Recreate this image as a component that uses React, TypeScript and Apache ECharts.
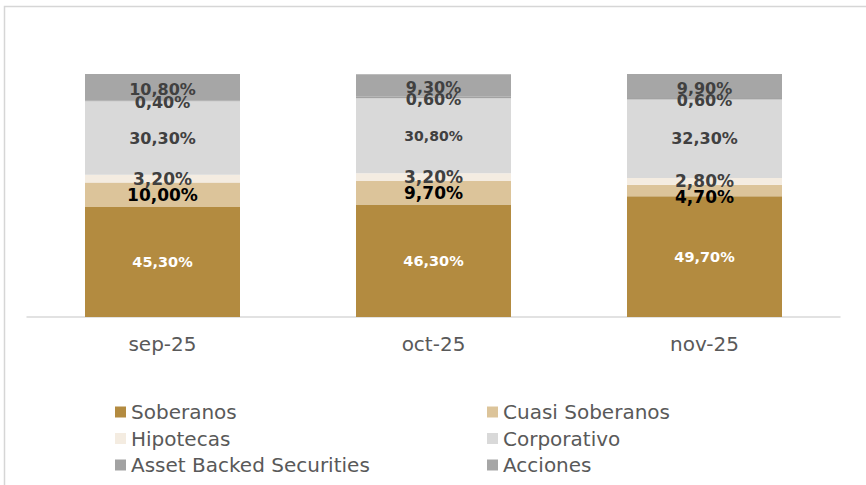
import React, { useEffect, useRef } from "react";
import * as echarts from "echarts";

const categories = ["sep-25", "oct-25", "nov-25"];
const soberanos = [45.3, 46.3, 49.7];
const cuasiSoberanos = [10.0, 9.7, 4.7];
const hipotecas = [3.2, 3.2, 2.8];
const corporativo = [30.3, 30.8, 32.3];
const assetBacked = [0.4, 0.6, 0.6];
const acciones = [10.8, 9.3, 9.9];

const seriesNames = [
  "Soberanos",
  "Cuasi Soberanos",
  "Hipotecas",
  "Corporativo",
  "Asset Backed Securities",
  "Acciones",
];
const seriesData = [soberanos, cuasiSoberanos, hipotecas, corporativo, assetBacked, acciones];
const colors = ["#B38B40", "#DCC49A", "#F4ECE1", "#D9D9D9", "#A2A2A2", "#A6A6A6"];
const labelColors = ["#FFFFFF", "#000000", "#404040", "#404040", "#404040", "#404040"];
const labelSizes = [14.5, 17, 17, 16, 16, 16];
const labelOffsets = [0, 0, 0, 0, 2, 2];

const fmt = (v: number) => v.toFixed(2).replace(".", ",") + "%";

export default function App() {
  const ref = useRef<HTMLDivElement>(null);
  useEffect(() => {
    if (!ref.current) return;
    const chart = echarts.init(ref.current, null, { renderer: "svg" });
    const font = "'DejaVu Sans', Verdana, sans-serif";
    const series = seriesNames.map((name, si) => ({
      name,
      type: "bar",
      stack: "total",
      barWidth: 155,
      itemStyle: { color: colors[si] },
      label: {
        show: true,
        position: "inside",
        color: labelColors[si],
        fontFamily: font,
        fontWeight: "bold",
        fontSize: labelSizes[si],
        offset: [0, labelOffsets[si]],
        formatter: (p: any) => fmt(p.value),
      },
      data: seriesData[si].map((v, ci) => {
        if (si === 3 && ci === 1) return { value: v, label: { fontSize: 14 } };
        if (si === 1 && ci === 2) return { value: v, label: { offset: [0, 6] } };
        return v;
      }),
    }));
    const legendCommon = {
      orient: "vertical",
      top: 402,
      padding: 0,
      itemWidth: 11,
      itemHeight: 11,
      itemGap: 6.5,
      icon: "rect",
      textStyle: { color: "#595959", fontSize: 20, fontFamily: font },
    };
    chart.setOption({
      animation: false,
      backgroundColor: "#FFFFFF",
      graphic: [
        {
          type: "rect",
          shape: { x: 4.5, y: 6.5, width: 900, height: 600 },
          style: { fill: "none", stroke: "#D6D6D6", lineWidth: 1.5 },
          silent: true,
        },
      ],
      grid: { left: 27, right: 26, top: 74, bottom: 168 },
      xAxis: {
        type: "category",
        data: categories,
        axisLine: { lineStyle: { color: "#D9D9D9", width: 1.5 } },
        axisTick: { show: false },
        axisLabel: { color: "#595959", fontSize: 20, fontFamily: font, margin: 17 },
      },
      yAxis: {
        type: "value",
        min: 0,
        max: 100,
        show: false,
        splitLine: { show: false },
      },
      legend: [
        {
          ...legendCommon,
          data: [seriesNames[0], seriesNames[2], seriesNames[4]],
          left: 115,
        },
        {
          ...legendCommon,
          data: [seriesNames[1], seriesNames[3], seriesNames[5]],
          left: 487,
        },
      ],
      series,
    });
    return () => chart.dispose();
  }, []);
  return (
    <div
      ref={ref}
      style={{ position: "absolute", left: 0, top: 0, width: 866, height: 485 }}
    />
  );
}
